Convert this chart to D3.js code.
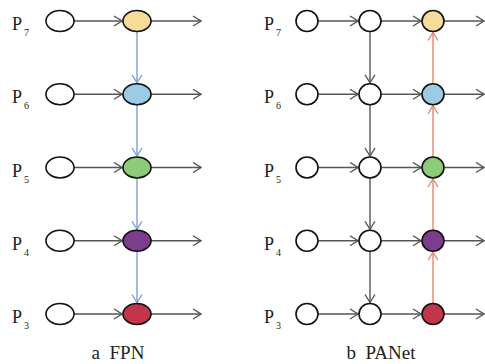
<!doctype html>
<html lang="en">
<head>
  <meta charset="utf-8">
  <title>FPN vs PANet</title>
  <script src="https://d3js.org/d3.v7.min.js"></script>
  <style>
    body { margin: 0; background: #fff; }
  </style>
</head>
<body>
  <div id="chart"></div>
  <script type="text/javascript">
    // pyramid levels, top to bottom
    var levels = ["7", "6", "5", "4", "3"];
    // fill of the output feature map for each level
    var levelColors = ["#f7db9a", "#9ccbe6", "#8ccb78", "#7c3d8c", "#c3354b"];
    var captions = ["a  FPN", "b  PANet"];

    var width = 485, height = 364;
    var gray = "#555", blue = "#7b9ed6", red = "#dd8a72";
    var serif = "Tinos, 'Nimbus Roman', 'Liberation Serif', 'DejaVu Serif', serif";

    var svg = d3.select('#chart').append('svg')
      .attr('width', width).attr('height', height)
      .style('font-family', serif);

    var defs = svg.append('defs');
    [["g", gray], ["b", blue], ["r", red]].forEach(function(m) {
      defs.append('marker')
        .attr('id', 'arr-' + m[0])
        .attr('markerUnits', 'userSpaceOnUse')
        .attr('viewBox', '0 0 10 12')
        .attr('markerWidth', 10).attr('markerHeight', 12)
        .attr('refX', 9).attr('refY', 6)
        .attr('orient', 'auto')
        .append('path')
        .attr('d', 'M1,1 L9,6 L1,11')
        .attr('fill', 'none')
        .attr('stroke', m[1])
        .attr('stroke-width', 1.4);
    });

    // vertical position of each level
    var y = d3.scalePoint().domain(levels).range([21, 314]);

    function arrow(g, x1, y1, x2, y2, color, key) {
      g.append('line')
        .attr('x1', x1).attr('y1', y1).attr('x2', x2).attr('y2', y2)
        .attr('stroke', color).attr('stroke-width', 1.4)
        .attr('marker-end', 'url(#arr-' + key + ')');
    }

    function label(g, x, lv) {
      var t = g.append('text').attr('x', x).attr('y', y(lv) + 9)
        .style('font-family', serif).attr('fill', '#222').attr('font-size', 18);
      t.append('tspan').text('P');
      t.append('tspan').attr('dx', 2).attr('dy', 6).attr('font-size', 10).text(lv);
    }

    function node(g, cx, cy, rx, ry, fill) {
      g.append('ellipse')
        .attr('cx', cx).attr('cy', cy).attr('rx', rx).attr('ry', ry)
        .attr('fill', fill).attr('stroke', '#111').attr('stroke-width', 1.6);
    }

    function caption(g, x, s) {
      g.append('text').attr('x', x).attr('y', 359).attr('text-anchor', 'middle')
        .style('font-family', serif).attr('fill', '#222').attr('font-size', 19)
        .attr('xml:space', 'preserve').style('white-space', 'pre')
        .text(s);
    }

    // ---- a FPN ----
    var a = svg.append('g');
    var xa = { lab: 12, inp: 60, out: 137, end: 201 };
    var rxa = 14, rya = 10.5;
    levels.forEach(function(lv, i) {
      var cy = y(lv);
      label(a, xa.lab, lv);
      arrow(a, xa.inp + rxa, cy, xa.out - rxa - 1, cy, gray, 'g');
      arrow(a, xa.out + rxa, cy, xa.end, cy, gray, 'g');
      if (i > 0) arrow(a, xa.out, y(levels[i - 1]) + rya, xa.out, cy - rya - 1, blue, 'b');
    });
    levels.forEach(function(lv, i) {
      node(a, xa.inp, y(lv), rxa, rya, '#fff');
      node(a, xa.out, y(lv), rxa, rya, levelColors[i]);
    });
    caption(a, 118, captions[0]);

    // ---- b PANet ----
    var b = svg.append('g');
    var xb = { lab: 264, inp: 307, mid: 370, out: 433, end: 484 };
    var rb = 11, ryb = 10.5;
    levels.forEach(function(lv, i) {
      var cy = y(lv);
      label(b, xb.lab, lv);
      arrow(b, xb.inp + rb, cy, xb.mid - rb - 1, cy, gray, 'g');
      arrow(b, xb.mid + rb, cy, xb.out - rb - 1, cy, gray, 'g');
      arrow(b, xb.out + rb, cy, xb.end, cy, gray, 'g');
      if (i > 0) {
        arrow(b, xb.mid, y(levels[i - 1]) + ryb, xb.mid, cy - ryb - 1, gray, 'g');
        arrow(b, xb.out, cy - ryb, xb.out, y(levels[i - 1]) + ryb + 1, red, 'r');
      }
    });
    levels.forEach(function(lv, i) {
      node(b, xb.inp, y(lv), rb, ryb, '#fff');
      node(b, xb.mid, y(lv), rb, ryb, '#fff');
      node(b, xb.out, y(lv), rb, ryb, levelColors[i]);
    });
    caption(b, 381, captions[1]);
  </script>
</body>
</html>
